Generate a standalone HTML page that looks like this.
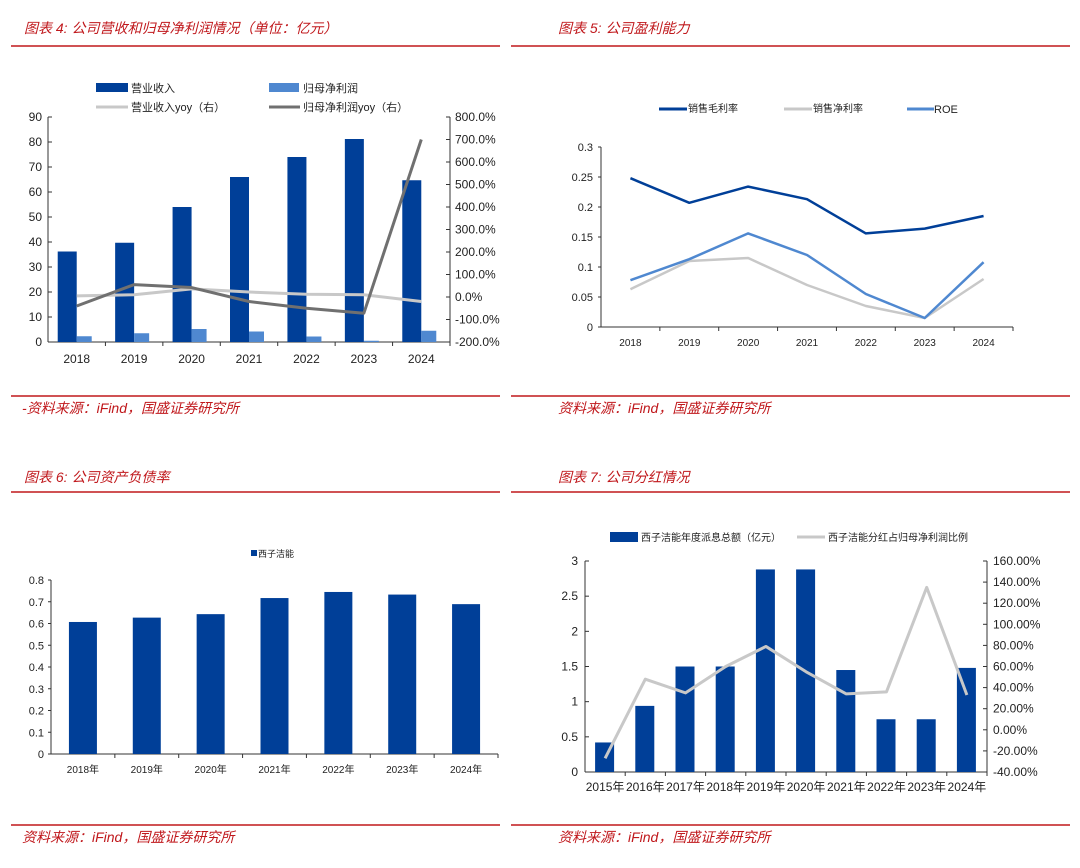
<!DOCTYPE html>
<html><head><meta charset="utf-8"><style>
body{margin:0;width:1080px;height:868px;background:#fff;overflow:hidden;font-family:"Liberation Sans","Noto Sans CJK SC",sans-serif}
svg{position:absolute;left:0;top:0}
</style></head><body>
<svg id="s" width="1080" height="868" xmlns="http://www.w3.org/2000/svg"></svg>
<script>
// Chart 4 data
const c4Cats=['2018','2019','2020','2021','2022','2023','2024'];
const c4Rev=[36.2,39.7,54,66,74,81.2,64.7];
const c4Profit=[2.3,3.5,5.2,4.2,2.2,0.5,4.5];
const c4RevYoy=[5,10,36,22,12,10,-20];
const c4ProfitYoy=[-40,55,42,-20,-50,-72,700];
const c4LeftTicks=[0,10,20,30,40,50,60,70,80,90];
const c4RightTicks=[-200,-100,0,100,200,300,400,500,600,700,800];
// Chart 5 data
const c5Cats=['2018','2019','2020','2021','2022','2023','2024'];
const c5Gross=[0.248,0.207,0.234,0.213,0.156,0.164,0.185];
const c5Net=[0.063,0.110,0.115,0.070,0.035,0.015,0.080];
const c5Roe=[0.078,0.113,0.156,0.120,0.055,0.015,0.108];
const c5Ticks=[0,0.05,0.1,0.15,0.2,0.25,0.3];
// Chart 6 data
const c6Cats=['2018年','2019年','2020年','2021年','2022年','2023年','2024年'];
const c6Vals=[0.607,0.627,0.643,0.717,0.745,0.733,0.689];
const c6Ticks=[0,0.1,0.2,0.3,0.4,0.5,0.6,0.7,0.8];
// Chart 7 data
const c7Cats=['2015年','2016年','2017年','2018年','2019年','2020年','2021年','2022年','2023年','2024年'];
const c7Div=[0.42,0.94,1.5,1.5,2.88,2.88,1.45,0.75,0.75,1.48];
const c7Ratio=[-27,48,35,60,79,55,34,36,135,33];
const c7LeftTicks=[0,0.5,1,1.5,2,2.5,3];
const c7RightTicks=[-40,-20,0,20,40,60,80,100,120,140,160];

const S=document.getElementById('s');const NS='http://www.w3.org/2000/svg';
function el(t,a,txt){const e=document.createElementNS(NS,t);for(const k in a)e.setAttribute(k,a[k]);if(txt!==undefined)e.textContent=txt;S.appendChild(e);return e;}
function lin(d0,d1,r0,r1){return v=>r0+(v-d0)/(d1-d0)*(r1-r0);}
const RED='#c0181c',DB='#003f98',LB='#4f88d0',GR='#c8c8c8',DG='#707070',TX='#222';
function txt(x,y,s,o,name){o=o||{};const e=el('text',{x:x,y:y,'font-size':o.fs||12,fill:o.fill||TX,'text-anchor':o.anchor||'start','font-style':o.it?'italic':'normal'},s);return e;}
function line(x1,y1,x2,y2,c,w,name){const e=el('line',{x1:x1,y1:y1,x2:x2,y2:y2,stroke:c,'stroke-width':w});return e;}
function poly(pts,c,w,name){const e=el('polyline',{points:pts.map(p=>p.join(',')).join(' '),fill:'none',stroke:c,'stroke-width':w,'stroke-linejoin':'round'});return e;}
function rect(x,y,w,h,c,name){const e=el('rect',{x:x,y:y,width:w,height:h,fill:c});return e;}

// Headers & sources
function header(x,y,lx1,lx2,ly,s,name){const t=txt(x,y,s,{fs:14,fill:RED,it:true},name);line(lx1,ly,lx2,ly,RED,1.5,name+'-rule');}
header(24,33,11,500,46,'图表 4:  公司营收和归母净利润情况（单位：亿元）','chart4-title');
header(558,33,511,1070,46,'图表 5:  公司盈利能力','chart5-title');
header(24,482,11,500,492,'图表 6:  公司资产负债率','chart6-title');
header(558,482,511,1070,492,'图表 7:  公司分红情况','chart7-title');
line(11,396,500,396,RED,1.5,'source-rule');line(511,396,1070,396,RED,1.5,'source-rule');
line(11,825,500,825,RED,1.5,'source-rule');line(511,825,1070,825,RED,1.5,'source-rule');
txt(22,413,'-资料来源：iFind，国盛证券研究所',{fs:14,fill:RED,it:true},'chart4-source');
txt(558,413,'资料来源：iFind，国盛证券研究所',{fs:14,fill:RED,it:true},'chart5-source');
txt(22,842,'资料来源：iFind，国盛证券研究所',{fs:14,fill:RED,it:true},'chart6-source');
txt(558,842,'资料来源：iFind，国盛证券研究所',{fs:14,fill:RED,it:true},'chart7-source');

// Chart 4
(function(){const x0=48,x1=450,yT=117,yB=342;const yl=lin(0,90,yB,yT),yr=lin(-200,800,yB,yT);const cw=(x1-x0)/c4Cats.length;
line(x0,yT,x0,yB,'#333',1,'c4-y-axis');line(x1,yT,x1,yB,'#333',1,'c4-y2-axis');line(x0,yB,x1,yB,'#333',1,'c4-x-axis');
c4LeftTicks.forEach(v=>{line(x0,yl(v),x0+4,yl(v),'#333',1,'c4-tick');txt(x0-6,yl(v)+4,String(v),{anchor:'end'},'c4-y-tick-label');});
c4RightTicks.forEach(v=>{line(x1-4,yr(v),x1,yr(v),'#333',1,'c4-tick');txt(x1+5,yr(v)+4,v.toFixed(1)+'%',{},'c4-y2-tick-label');});
c4Cats.forEach((c,i)=>{const cx=x0+cw*(i+0.5);line(x0+cw*(i+1),yB,x0+cw*(i+1),yB+4,'#333',1,'c4-tick');txt(cx,yB+21,c,{anchor:'middle'},'c4-x-tick-label');
rect(cx-19,yl(c4Rev[i]),19,yB-yl(c4Rev[i]),DB,'c4-revenue-bar-'+c);rect(cx,yl(c4Profit[i]),15,yB-yl(c4Profit[i]),LB,'c4-profit-bar-'+c);});
poly(c4Cats.map((c,i)=>[x0+cw*(i+0.5),yr(c4RevYoy[i])]),GR,3,'c4-revenue-yoy-line');
poly(c4Cats.map((c,i)=>[x0+cw*(i+0.5),yr(c4ProfitYoy[i])]),DG,3,'c4-profit-yoy-line');
rect(96,83,32,9,DB,'c4-legend-revenue-swatch');txt(131,92,'营业收入',{fs:11},'c4-legend-revenue');
rect(269,83,30,9,LB,'c4-legend-profit-swatch');txt(303,92,'归母净利润',{fs:11},'c4-legend-profit');
line(96,107,128,107,GR,3,'c4-legend-revyoy-swatch');txt(131,111,'营业收入yoy（右）',{fs:11},'c4-legend-revyoy');
line(269,107,300,107,DG,3,'c4-legend-profityoy-swatch');txt(303,111,'归母净利润yoy（右）',{fs:11},'c4-legend-profityoy');})();

// Chart 5
(function(){const x0=601,x1=1013,yT=147,yB=327;const y=lin(0,0.3,yB,yT);const cw=(x1-x0)/c5Cats.length;
line(x0,yT,x0,yB,'#333',1,'c5-y-axis');line(x0,yB,x1,yB,'#333',1,'c5-x-axis');
c5Ticks.forEach(v=>{line(x0-3,y(v),x0,y(v),'#333',1,'c5-tick');txt(x0-8,y(v)+4,String(v),{anchor:'end',fs:11},'c5-y-tick-label');});
c5Cats.forEach((c,i)=>{line(x0+cw*(i+1),yB,x0+cw*(i+1),yB+4,'#333',1,'c5-tick');txt(x0+cw*(i+0.5),yB+19,c,{anchor:'middle',fs:10},'c5-x-tick-label');});
const px=i=>x0+cw*(i+0.5);
poly(c5Net.map((v,i)=>[px(i),y(v)]),GR,2.5,'c5-net-margin-line');
poly(c5Roe.map((v,i)=>[px(i),y(v)]),LB,2.5,'c5-roe-line');
poly(c5Gross.map((v,i)=>[px(i),y(v)]),DB,2.5,'c5-gross-margin-line');
line(659,109,687,109,DB,3,'c5-legend-gross-swatch');txt(688,112,'销售毛利率',{fs:10},'c5-legend-gross');
line(784,109,812,109,GR,3,'c5-legend-net-swatch');txt(813,112,'销售净利率',{fs:10},'c5-legend-net');
line(907,109,934,109,LB,3,'c5-legend-roe-swatch');txt(934,113,'ROE',{fs:11},'c5-legend-roe');})();

// Chart 6
(function(){const x0=51,x1=498,yT=580,yB=754;const y=lin(0,0.8,yB,yT);const cw=(x1-x0)/c6Cats.length;
line(x0,yT,x0,yB,'#333',1,'c6-y-axis');line(x0,yB,x1,yB,'#333',1,'c6-x-axis');
c6Ticks.forEach(v=>{line(x0-3,y(v),x0,y(v),'#333',1,'c6-tick');txt(x0-7,y(v)+4,String(v),{anchor:'end',fs:11},'c6-y-tick-label');});
c6Cats.forEach((c,i)=>{const cx=x0+cw*(i+0.5);line(x0+cw*(i+1),yB,x0+cw*(i+1),yB+4,'#333',1,'c6-tick');txt(cx,yB+19,c,{anchor:'middle',fs:10},'c6-x-tick-label');
rect(cx-14,y(c6Vals[i]),28,yB-y(c6Vals[i]),DB,'c6-bar-'+c);});
rect(251,550,6,6,DB,'c6-legend-swatch');txt(258,557,'西子洁能',{fs:9},'c6-legend');})();

// Chart 7
(function(){const x0=585,x1=987,yT=561,yB=772;const yl=lin(0,3,yB,yT),yr=lin(-40,160,yB,yT);const cw=(x1-x0)/c7Cats.length;
line(x0,yT,x0,yB,'#333',1,'c7-y-axis');line(x1,yT,x1,yB,'#333',1,'c7-y2-axis');line(x0,yB,x1,yB,'#333',1,'c7-x-axis');
c7LeftTicks.forEach(v=>{line(x0,yl(v),x0+4,yl(v),'#333',1,'c7-tick');txt(x0-7,yl(v)+4,String(v),{anchor:'end'},'c7-y-tick-label');});
c7RightTicks.forEach(v=>{line(x1-4,yr(v),x1,yr(v),'#333',1,'c7-tick');txt(x1+6,yr(v)+4,v.toFixed(2)+'%',{},'c7-y2-tick-label');});
c7Cats.forEach((c,i)=>{const cx=x0+cw*(i+0.5);line(x0+cw*(i+1),yB,x0+cw*(i+1),yB+4,'#333',1,'c7-tick');txt(cx,yB+19,c,{anchor:'middle'},'c7-x-tick-label');
rect(cx-10,yl(c7Div[i]),19,yB-yl(c7Div[i]),DB,'c7-dividend-bar-'+c);});
poly(c7Cats.map((c,i)=>[x0+cw*(i+0.5),yr(c7Ratio[i])]),GR,3,'c7-payout-ratio-line');
rect(610,532,28,10,DB,'c7-legend-dividend-swatch');txt(641,541,'西子洁能年度派息总额（亿元）',{fs:10},'c7-legend-dividend');
line(797,537,825,537,GR,3,'c7-legend-ratio-swatch');txt(828,541,'西子洁能分红占归母净利润比例',{fs:10},'c7-legend-ratio');})();
</script>
</body></html>
